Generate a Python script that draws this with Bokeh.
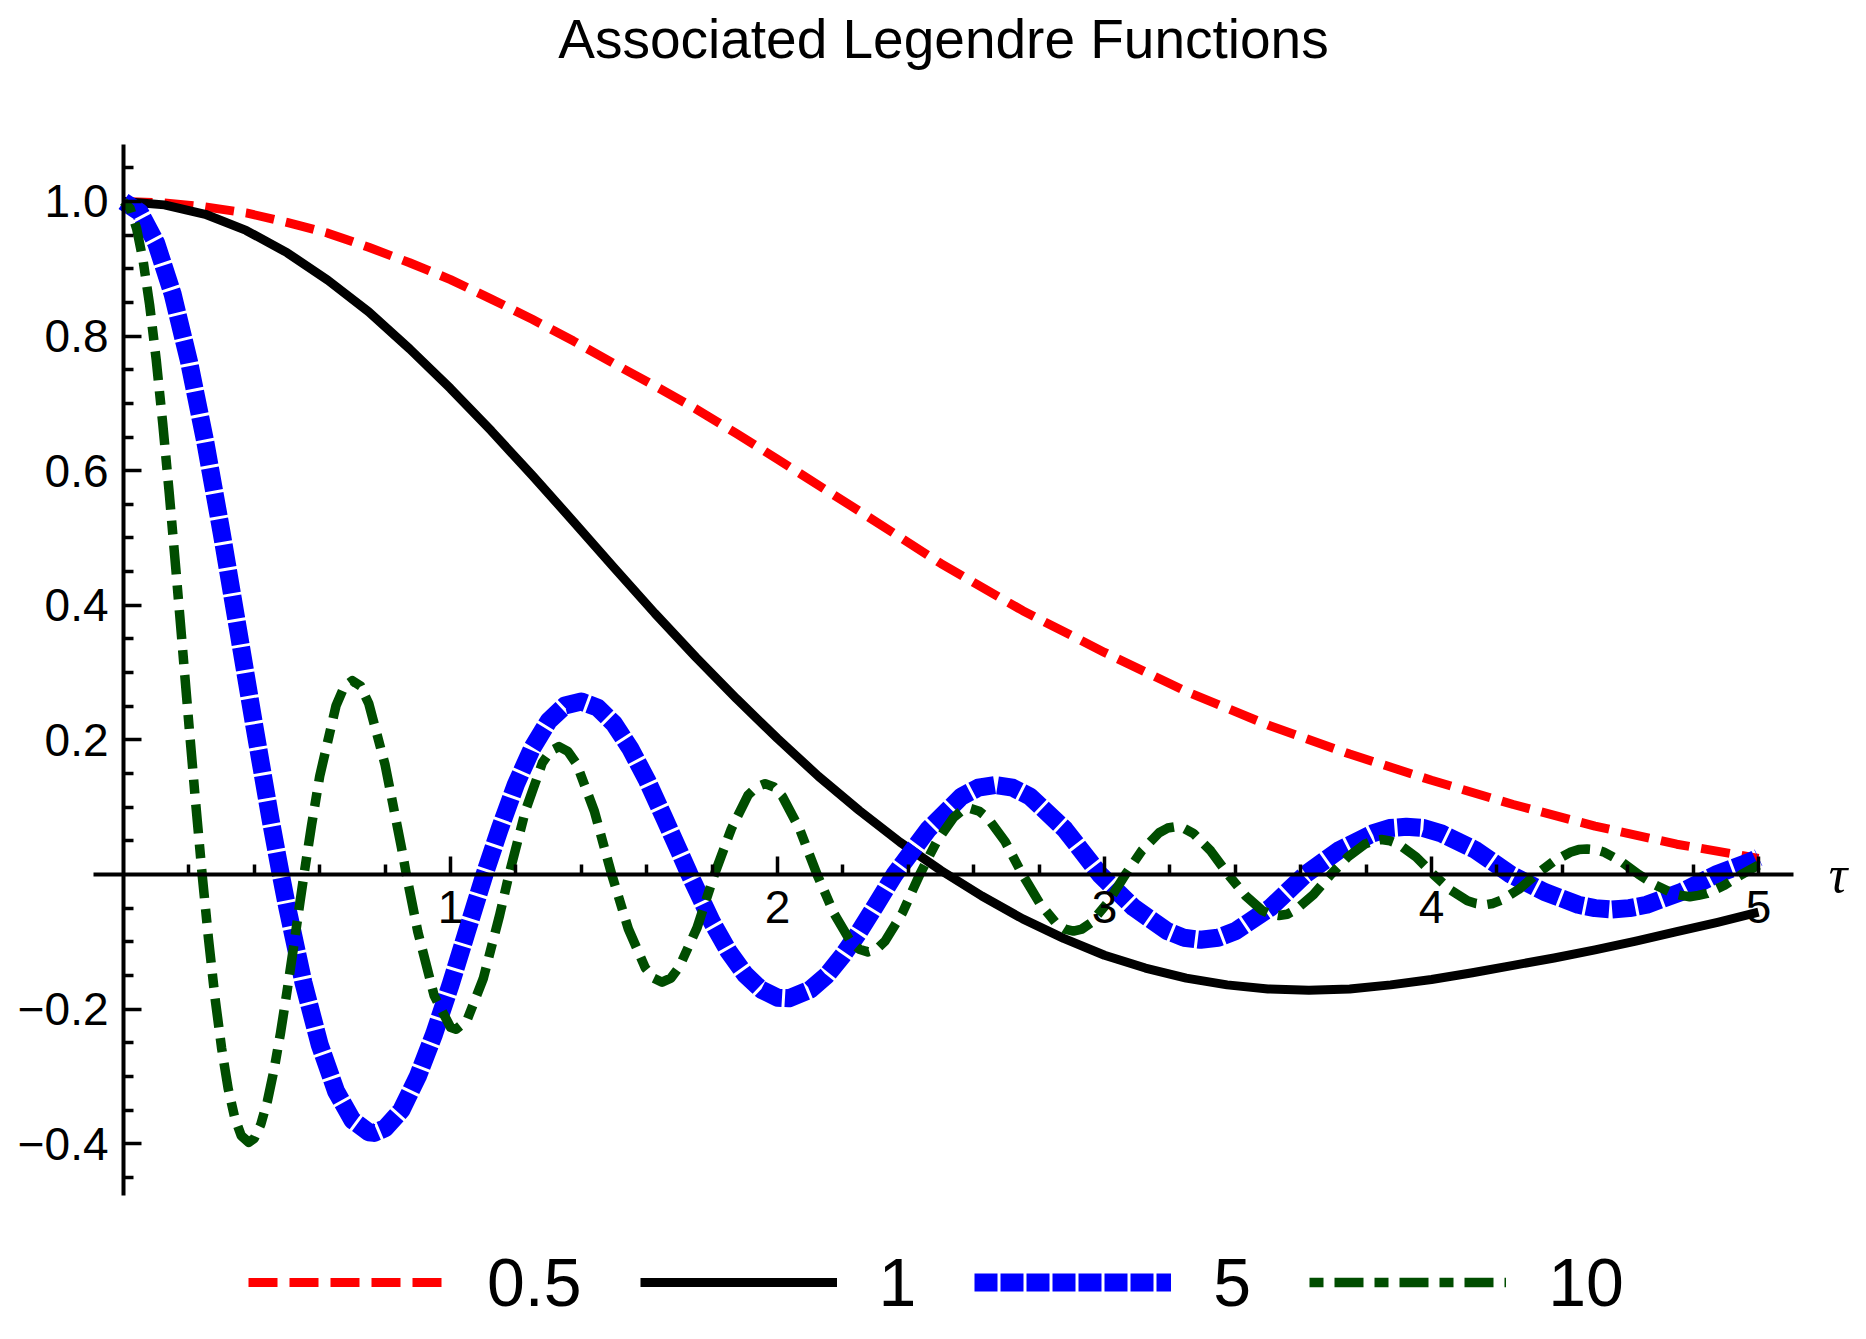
from bokeh.plotting import figure
from bokeh.models import Range1d, FixedTicker, CustomJSTickFormatter, Legend, LegendItem, Label
from bokeh.embed import file_html
from bokeh.resources import INLINE

# ---------------- data ----------------
title_text = "Associated Legendre Functions"
series_labels = ["0.5", "1", "5", "10"]

tau_a05 = [0, 0.125, 0.25, 0.375, 0.5, 0.625, 0.75, 0.875, 1.0, 1.125, 1.25, 1.375, 1.5,
           1.625, 1.75, 1.875, 2.0, 2.25, 2.5, 2.75, 3.0, 3.25, 3.5, 3.75, 4.0, 4.25, 4.5, 4.75, 5.0]
val_a05 = [1.0, 0.998, 0.992, 0.983, 0.969, 0.953, 0.932, 0.909, 0.884, 0.855, 0.825, 0.793, 0.759,
           0.726, 0.692, 0.655, 0.617, 0.540, 0.462, 0.392, 0.330, 0.272, 0.222, 0.179, 0.140, 0.104, 0.072, 0.045, 0.024]

tau_a1 = [0, 0.125, 0.25, 0.375, 0.5, 0.625, 0.75, 0.875, 1.0, 1.125, 1.25, 1.375, 1.5, 1.625, 1.75,
          1.875, 2.0, 2.125, 2.25, 2.375, 2.5, 2.625, 2.75, 2.875, 3.0, 3.125, 3.25, 3.375, 3.5, 3.625,
          3.75, 3.875, 4.0, 4.125, 4.25, 4.375, 4.5, 4.625, 4.75, 4.875, 5.0]
val_a1 = [1.0, 0.995, 0.981, 0.957, 0.924, 0.883, 0.836, 0.781, 0.722, 0.659, 0.593, 0.525, 0.456, 0.388, 0.323,
          0.261, 0.202, 0.146, 0.095, 0.048, 0.006, -0.032, -0.066, -0.095, -0.120, -0.139, -0.154, -0.164,
          -0.170, -0.172, -0.170, -0.164, -0.156, -0.146, -0.135, -0.124, -0.112, -0.099, -0.085, -0.071, -0.056]

tau_a5 = [0, 0.05, 0.10, 0.15, 0.20, 0.25, 0.30, 0.35, 0.40, 0.45, 0.481, 0.50, 0.55, 0.60, 0.65, 0.70,
          0.75, 0.766, 0.80, 0.85, 0.90, 0.95, 1.00, 1.05, 1.104, 1.15, 1.2, 1.25, 1.3, 1.35, 1.4, 1.45,
          1.5, 1.55, 1.6, 1.65, 1.7, 1.731, 1.8, 1.85, 1.9, 1.95, 2.0, 2.035, 2.1, 2.15, 2.2, 2.25, 2.3,
          2.358, 2.461, 2.563, 2.614, 2.665, 2.719, 2.772, 2.879, 2.986,
          3.089, 3.192, 3.243, 3.294, 3.347, 3.401, 3.508, 3.614,
          3.717, 3.820, 3.872, 3.923, 3.976, 4.030, 4.136, 4.242,
          4.346, 4.449, 4.500, 4.552, 4.605, 4.658, 4.764, 4.870, 4.974, 5.0]
val_a5 = [1.0, 0.984, 0.938, 0.863, 0.763, 0.643, 0.508, 0.365, 0.221, 0.081, 0.0, -0.047, -0.160, -0.253,
          -0.322, -0.365, -0.383, -0.384, -0.377, -0.350, -0.300, -0.237, -0.164, -0.085, 0.0, 0.067, 0.134,
          0.188, 0.228, 0.251, 0.257, 0.248, 0.224, 0.187, 0.141, 0.088, 0.034, 0.0, -0.071, -0.114, -0.148,
          -0.171, -0.183, -0.184, -0.171, -0.150, -0.120, -0.085, -0.046,
          0.0, 0.067, 0.116, 0.129, 0.133, 0.129, 0.116, 0.067, 0.0,
          -0.049, -0.084, -0.094, -0.097, -0.094, -0.084, -0.049, 0.0,
          0.036, 0.061, 0.069, 0.071, 0.069, 0.061, 0.036, 0.0,
          -0.026, -0.045, -0.050, -0.052, -0.050, -0.045, -0.026, 0.0, 0.019, 0.025]

tau_a10 = [0, 0.02, 0.04, 0.06, 0.08, 0.10, 0.12, 0.14, 0.16, 0.18, 0.20, 0.22, 0.2405, 0.26, 0.28, 0.30,
           0.32, 0.34, 0.36, 0.383, 0.40, 0.42, 0.44, 0.46, 0.48, 0.50, 0.52, 0.54, 0.552, 0.575, 0.60, 0.65,
           0.675, 0.70, 0.725, 0.75, 0.80, 0.85, 0.865, 0.90, 0.95, 1.00, 1.017, 1.05, 1.10, 1.15, 1.179,
           1.230, 1.281, 1.307, 1.332, 1.359, 1.386, 1.440, 1.493,
           1.544, 1.596, 1.621, 1.647, 1.674, 1.700, 1.754, 1.807,
           1.859, 1.910, 1.936, 1.962, 1.989, 2.015, 2.068, 2.121,
           2.173, 2.224, 2.250, 2.276, 2.303, 2.329, 2.382, 2.435,
           2.487, 2.539, 2.564, 2.590, 2.617, 2.643, 2.696, 2.749,
           2.801, 2.853, 2.879, 2.905, 2.931, 2.958, 3.011, 3.064,
           3.115, 3.167, 3.193, 3.219, 3.245, 3.272, 3.325, 3.378,
           3.430, 3.481, 3.507, 3.533, 3.559, 3.586, 3.639, 3.692,
           3.744, 3.796, 3.821, 3.847, 3.873, 3.900, 3.953, 4.006,
           4.058, 4.110, 4.136, 4.162, 4.188, 4.214, 4.267, 4.320,
           4.372, 4.424, 4.450, 4.476, 4.502, 4.529, 4.581, 4.634,
           4.686, 4.738, 4.764, 4.790, 4.816, 4.843, 4.896, 4.948, 5.0]
val_a10 = [1.0, 0.990, 0.960, 0.912, 0.846, 0.765, 0.670, 0.566, 0.454, 0.339, 0.223, 0.110, 0.0, -0.096,
           -0.184, -0.258, -0.318, -0.361, -0.388, -0.398, -0.392, -0.371, -0.337, -0.291, -0.236, -0.174,
           -0.108, -0.040, 0.0, 0.073, 0.146, 0.251, 0.279, 0.288, 0.280, 0.254, 0.163, 0.040, 0.0, -0.085,
           -0.180, -0.227, -0.230, -0.217, -0.155, -0.061, 0.0,
           0.096, 0.166, 0.184, 0.190, 0.183, 0.164, 0.094, 0.0,
           -0.081, -0.139, -0.154, -0.160, -0.154, -0.137, -0.079, 0.0,
           0.068, 0.118, 0.130, 0.135, 0.130, 0.116, 0.067, 0.0,
           -0.058, -0.100, -0.111, -0.115, -0.111, -0.099, -0.057, 0.0,
           0.049, 0.085, 0.095, 0.098, 0.094, 0.084, 0.049, 0.0,
           -0.042, -0.073, -0.081, -0.084, -0.081, -0.072, -0.041, 0.0,
           0.036, 0.062, 0.069, 0.071, 0.068, 0.061, 0.035, 0.0,
           -0.031, -0.053, -0.059, -0.061, -0.059, -0.052, -0.030, 0.0,
           0.026, 0.045, 0.050, 0.052, 0.050, 0.045, 0.026, 0.0,
           -0.023, -0.039, -0.043, -0.045, -0.043, -0.038, -0.022, 0.0,
           0.019, 0.033, 0.037, 0.038, 0.037, 0.033, 0.019, 0.0,
           -0.016, -0.028, -0.031, -0.033, -0.031, -0.028, -0.016, 0.0, 0.014]

x_major_ticks = [1, 2, 3, 4, 5]
x_minor_ticks = [0.2, 0.4, 0.6, 0.8, 1.2, 1.4, 1.6, 1.8, 2.2, 2.4, 2.6, 2.8, 3.2, 3.4, 3.6, 3.8,
                 4.2, 4.4, 4.6, 4.8]
y_major_ticks = [-0.4, -0.2, 0.2, 0.4, 0.6, 0.8, 1.0]
y_minor_ticks = [-0.45, -0.35, -0.3, -0.25, -0.15, -0.1, -0.05, 0.05, 0.1, 0.15, 0.25, 0.3, 0.35,
                 0.45, 0.5, 0.55, 0.65, 0.7, 0.75, 0.85, 0.9, 0.95, 1.05]
x_axis_extent = (-0.092, 5.107)
y_axis_extent = (-0.477, 1.085)

# ---------------- figure ----------------
FONT = "Liberation Sans"
p = figure(width=1850, height=1323,
           x_range=Range1d(-0.37615, 5.28135), y_range=Range1d(-0.66716, 1.29866),
           output_backend="svg", toolbar_location=None,
           min_border_left=0, min_border_right=0, min_border_top=0, min_border_bottom=0)
p.outline_line_color = None
p.grid.visible = False
p.background_fill_color = "white"
p.border_fill_color = "white"

xa = p.xaxis[0]
xa.fixed_location = 0
xa.bounds = x_axis_extent
xa.ticker = FixedTicker(ticks=x_major_ticks, minor_ticks=x_minor_ticks)
xa.formatter = CustomJSTickFormatter(code="return tick.toFixed(0);")
ya = p.yaxis[0]
ya.fixed_location = 0
ya.bounds = y_axis_extent
ya.ticker = FixedTicker(ticks=y_major_ticks, minor_ticks=y_minor_ticks)
ya.formatter = CustomJSTickFormatter(code=r"return (tick < 0 ? '\u2212' : '') + Math.abs(tick).toFixed(1);")
for ax in (xa, ya):
    ax.axis_line_width = 4
    ax.axis_line_color = "black"
    ax.major_tick_in = 18
    ax.major_tick_out = 0
    ax.minor_tick_in = 10
    ax.minor_tick_out = 0
    ax.major_tick_line_width = 3.5
    ax.minor_tick_line_width = 3.5
    ax.major_label_text_font = FONT
    ax.major_label_text_font_size = "46px"
    ax.major_label_text_color = "black"
xa.major_label_standoff = 16
ya.major_label_standoff = 15

r1 = p.line(tau_a05, val_a05, line_color="#ff0000", line_width=9, line_dash="29 12", line_join="round")
r2 = p.line(tau_a1, val_a1, line_color="#000000", line_width=9, line_join="round")
r3 = p.line(tau_a5, val_a5, line_color="#0000ff", line_width=18, line_dash="23 3", line_join="round")
r4 = p.line(tau_a10, val_a10, line_color="#004d00", line_width=9.5, line_dash="14 11 29 11", line_join="round")

legend = Legend(items=[LegendItem(label=series_labels[0], renderers=[r1]),
                       LegendItem(label=series_labels[1], renderers=[r2]),
                       LegendItem(label=series_labels[2], renderers=[r3]),
                       LegendItem(label=series_labels[3], renderers=[r4])],
                orientation="horizontal", location=(248, 2),
                glyph_width=197, glyph_height=76, label_height=76, label_standoff=42, spacing=58,
                padding=0, margin=0, label_text_font=FONT, label_text_font_size="68px",
                label_text_color="black", border_line_color=None, background_fill_alpha=0)
p.add_layout(legend)

p.add_layout(Label(x=2.5075, y=1.242, text=title_text, text_align="center", text_baseline="alphabetic",
                   text_font=FONT, text_font_size="55px", text_color="black"))
p.add_layout(Label(x=5.272, y=0, text="\u03c4", text_align="right", text_baseline="middle",
                   text_font="Liberation Serif", text_font_style="italic", text_font_size="52px",
                   text_color="black"))

open("out.html", "w", encoding="utf-8").write(file_html(p, INLINE))
